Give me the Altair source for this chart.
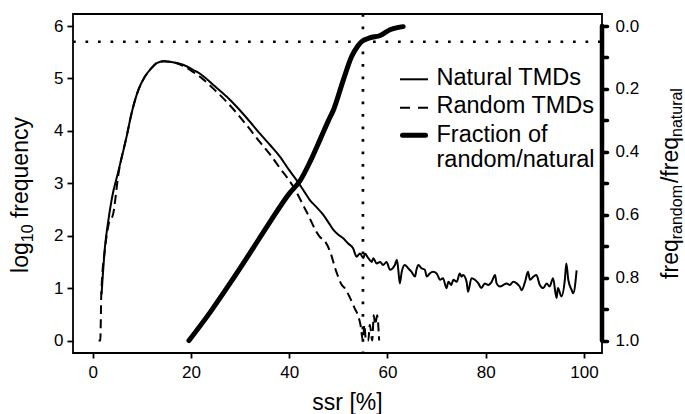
import altair as alt
import pandas as pd

# ---------------- data ----------------
nat_ssr = [1.8, 2.5, 3.2, 3.9, 5.2, 6.9, 7.9, 9.3, 10.6, 12.0, 13.0, 14.5, 15.7, 18.4, 20.5,
           22.0, 24.5, 27.3, 29.3, 31.4, 34.0, 36.1, 38.1, 40.0, 41.5, 43.0, 44.2, 45.5, 46.9,
           48.0, 49.0, 50.0, 51.0, 52.0, 53.0, 53.7, 54.4, 55.1, 55.4, 56.1, 56.8, 57.1, 57.8,
           58.5, 59.1, 59.8, 60.5, 61.5, 61.9, 62.2, 62.5, 62.9, 63.5, 64.2, 64.9, 65.6, 65.9,
           66.3, 66.9, 67.6, 68.0, 68.6, 69.3, 70.0, 70.7, 71.3, 72.0, 72.4, 73.0, 73.4, 74.1,
           74.7, 75.1, 75.4, 76.1, 76.4, 77.1, 77.8, 78.5, 79.1, 79.8, 80.5, 81.2, 81.9, 82.2,
           82.9, 83.6, 84.2, 84.9, 85.6, 86.3, 86.9, 87.3, 88.0, 88.6, 89.0, 89.7, 90.3, 91.0,
           91.7, 92.4, 93.0, 93.7, 94.4, 94.7, 95.4, 96.1, 96.4, 96.8, 97.5, 97.8, 98.5]
nat_val = [0.88, 1.79, 2.30, 2.71, 3.22, 3.89, 4.33, 4.78, 5.03, 5.20, 5.29, 5.33, 5.32, 5.26, 5.16,
           5.08, 4.88, 4.65, 4.46, 4.24, 3.95, 3.73, 3.51, 3.25, 3.06, 2.85, 2.68, 2.55, 2.40,
           2.25, 2.11, 2.02, 1.95, 1.85, 1.76, 1.60, 1.66, 1.57, 1.66, 1.57, 1.50, 1.57, 1.47,
           1.50, 1.44, 1.50, 1.35, 1.44, 1.54, 1.35, 1.09, 1.31, 1.44, 1.38, 1.31, 1.22, 1.35,
           1.44, 1.38, 1.35, 1.22, 1.28, 1.31, 1.28, 1.16, 1.19, 1.00, 1.12, 1.06, 1.16, 1.12,
           1.28, 1.22, 1.25, 1.12, 0.93, 1.19, 1.16, 1.09, 1.00, 1.09, 1.06, 1.12, 1.25, 1.09,
           1.03, 1.06, 1.09, 1.06, 1.12, 1.09, 1.03, 0.96, 1.12, 1.31, 1.16, 1.22, 1.25, 1.06,
           1.00, 1.09, 1.03, 1.19, 0.81, 1.00, 0.84, 1.16, 1.47, 1.16, 0.96, 0.90, 1.34]

rnd_ssr = [1.2, 1.55, 1.75, 2.5, 3.2, 4.2, 5.2, 6.9, 7.9, 9.3, 10.6, 12.0, 13.0, 14.5, 15.7,
           18.4, 20.5, 22.0, 24.5, 27.3, 29.3, 31.4, 34.0, 36.1, 38.1, 40.8, 43.5, 46.2, 47.3,
           48.3, 49.6, 50.7, 51.3, 52.4, 53.4, 54.0, 54.5, 55.0, 55.3, 55.6, 56.1, 56.4, 56.9,
           57.2, 57.5, 57.9, 58.3]
rnd_val = [0.0, 0.0, 0.90, 1.75, 2.20, 2.43, 3.15, 3.89, 4.33, 4.78, 5.03, 5.20, 5.29, 5.33, 5.32,
           5.24, 5.12, 5.02, 4.81, 4.55, 4.34, 4.10, 3.79, 3.55, 3.29, 2.94, 2.46, 1.98, 1.89,
           1.70, 1.31, 1.06, 1.00, 0.81, 0.60, 0.48, 0.30, 0.00, 0.30, 0.00, 0.00, 0.30, 0.00,
           0.48, 0.30, 0.48, 0.00]

frac_ssr = [19.6, 24.0, 28.0, 32.0, 36.0, 40.0, 42.2, 44.2, 46.25, 48.0, 49.0, 51.0, 52.7,
            54.0, 54.7, 56.4, 58.5, 60.5, 62.0, 63.2]
frac_val = [1.0, 0.908, 0.817, 0.722, 0.625, 0.533, 0.492, 0.433, 0.362, 0.30, 0.267, 0.172,
            0.097, 0.063, 0.05, 0.038, 0.03, 0.012, 0.005, 0.002]

x_ticks = [0, 20, 40, 60, 80, 100]
y_ticks = [0, 1, 2, 3, 4, 5, 6]
r_ticks = [0.0, 0.1, 0.2, 0.3, 0.4, 0.5, 0.6, 0.7, 0.8, 0.9, 1.0]
cut_ssr = 55
cut_frac = 0.05

legend_labels = ["Natural TMDs", "Random TMDs", "Fraction of", "random/natural"]

# ---------------- layout ----------------
W, H = 529, 339
FONT = "Liberation Sans"
TICK_FS = 17
TITLE_FS = 23
SUB_FS = 16
LEG_FS = 23.5

# Arial / Liberation Sans advance widths (per em) for composing the sub-scripted titles
ADV = {"l": .222, "o": .556, "g": .556, "1": .556, "0": .556, " ": .278, "f": .278,
       "r": .333, "e": .556, "q": .556, "u": .556, "n": .556, "c": .5, "y": .5, "a": .556,
       "d": .556, "m": .833, "/": .278, "t": .278}


def width(s, size):
    return sum(ADV[c] for c in s) * size


xscale = alt.Scale(domain=[-4.01, 103.66], nice=False, zero=False)
yl = alt.Scale(domain=[-0.238, 6.229], nice=False, zero=False)
yr = alt.Scale(domain=[-0.0382, 1.0397], nice=False, zero=False, reverse=True)

xaxis = alt.Axis(values=x_ticks, title=None, grid=False, domain=False, tickSize=5,
                 tickWidth=1.8, tickColor="black", labelFont=FONT, labelFontSize=TICK_FS,
                 labelColor="black", labelPadding=6, labelFlush=False, labelOverlap=False)
yaxis = alt.Axis(values=y_ticks, title=None, grid=False, domain=False, tickSize=6,
                 tickWidth=1.8, tickColor="black", labelFont=FONT, labelFontSize=TICK_FS,
                 labelColor="black", labelPadding=4, labelFlush=False, labelOverlap=False)
raxis = alt.Axis(orient="right", values=r_ticks, title=None, grid=False, domain=False,
                 tickSize=5, tickWidth=3.5, tickCap="round", tickColor="black",
                 labelExpr="round(datum.value*10) % 2 == 0 ? format(datum.value, '.1f') : ''",
                 labelFont=FONT, labelFontSize=TICK_FS, labelColor="black", labelPadding=8,
                 labelFlush=False, labelOverlap=False)

nat_df = pd.DataFrame({"ssr": nat_ssr, "val": nat_val})
rnd_df = pd.DataFrame({"ssr": rnd_ssr, "val": rnd_val})
frac_df = pd.DataFrame({"ssr": frac_ssr, "frac": frac_val})

X = alt.X("ssr:Q", scale=xscale, axis=xaxis)

nat = alt.Chart(nat_df).mark_line(color="black", strokeWidth=2, interpolate="monotone").encode(
    x=X, y=alt.Y("val:Q", scale=yl, axis=yaxis))
rnd = alt.Chart(rnd_df).mark_line(color="black", strokeWidth=2, strokeDash=[9, 5],
                                  interpolate="monotone").encode(
    x=X, y=alt.Y("val:Q", scale=yl, axis=yaxis))
vline = alt.Chart(pd.DataFrame({"ssr": [cut_ssr]})).mark_rule(
    color="black", strokeWidth=2.7, strokeDash=[2.7, 9.8]).encode(
    x=X, y=alt.value(0), y2=alt.value(H))


def txt(label, x, y, size, angle=0, align="left", baseline="alphabetic"):
    kw = dict(font=FONT, fontSize=size, color="black", align=align, baseline=baseline)
    if angle:
        kw["angle"] = angle
    return alt.Chart(pd.DataFrame({"t": [label]})).mark_text(**kw).encode(
        x=alt.value(x), y=alt.value(y), text="t:N")


def seg(x1, x2, y, w, dash=None, cap="butt"):
    kw = dict(color="black", strokeWidth=w, strokeCap=cap)
    if dash:
        kw["strokeDash"] = dash
    return alt.Chart(pd.DataFrame({"a": [0]})).mark_rule(**kw).encode(
        x=alt.value(x1), x2=alt.value(x2), y=alt.value(y))


def vertical_title(pieces, x_main, x_sub, center_y):
    """pieces: list of (text, is_sub, gap_px); written bottom-to-top, centred on center_y."""
    total = sum(width(t, SUB_FS if s else TITLE_FS) + g for t, s, g in pieces)
    y = center_y + total / 2
    out = []
    for t, s, g in pieces:
        size = SUB_FS if s else TITLE_FS
        y -= g
        out.append(txt(t, x_sub if s else x_main, y, size, angle=270))
        y -= width(t, size)
    return out


annotations = [txt("ssr [%]", 274.5, 396, TITLE_FS, align="center")]
annotations += vertical_title([("log", False, 0), ("10", True, 0), ("frequency", False, 6.4)],
                              -45, -40, 181)
annotations += vertical_title([("freq", False, 0), ("random", True, 0), ("/freq", False, 2),
                               ("natural", True, 0)], 605, 609, 169.5)
annotations += [
    seg(327, 355, 65.3, 2),
    seg(327, 355, 93.7, 2, dash=[10, 8]),
    seg(329.5, 352.5, 121.3, 5, cap="round"),
    txt(legend_labels[0], 363.5, 71, LEG_FS),
    txt(legend_labels[1], 363.5, 99.3, LEG_FS),
    txt(legend_labels[2], 363.5, 127.7, LEG_FS),
    txt(legend_labels[3], 363.5, 152.7, LEG_FS),
]

left = alt.layer(nat, rnd, vline, *annotations)

frac = alt.Chart(frac_df).mark_line(color="black", strokeWidth=5, strokeCap="round",
                                    interpolate="monotone").encode(
    x=X, y=alt.Y("frac:Q", scale=yr, axis=raxis))
raxis_line = alt.Chart(pd.DataFrame({"a": [0.0], "b": [1.0]})).mark_rule(
    color="black", strokeWidth=4.5, strokeCap="round").encode(
    x=alt.value(W), y=alt.Y("a:Q", scale=yr, axis=raxis), y2="b:Q")
hline = alt.Chart(pd.DataFrame({"frac": [cut_frac]})).mark_rule(
    color="black", strokeWidth=2.7, strokeDash=[2.7, 9.8]).encode(
    x=alt.value(0), x2=alt.value(W), y=alt.Y("frac:Q", scale=yr, axis=raxis))

right = alt.layer(hline, frac, raxis_line)

chart = alt.layer(left, right).resolve_scale(y="independent").properties(
    width=W, height=H,
    padding={"left": 73, "top": 14, "right": 83, "bottom": 61},
    autosize=alt.AutoSizeParams(type="none"),
).configure_view(stroke="black", strokeWidth=1.8)

chart.save("out.html", embed_options={"renderer": "svg", "actions": False})
